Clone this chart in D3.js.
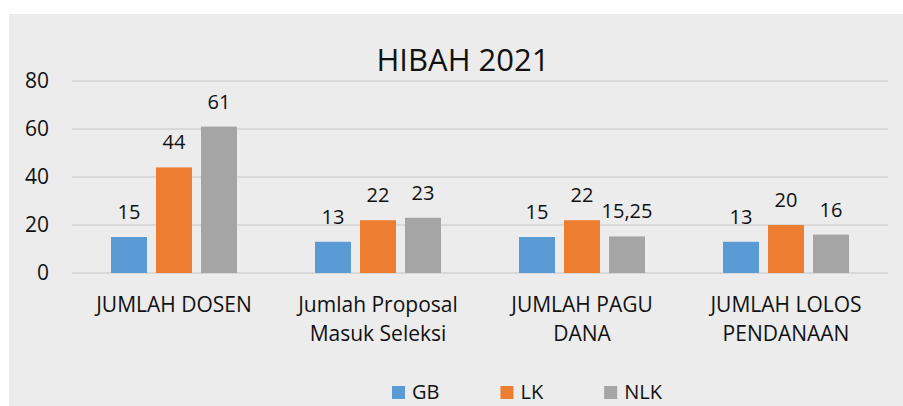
<!DOCTYPE html>
<html>
<head>
<meta charset="utf-8">
<script src="https://cdn.jsdelivr.net/npm/d3@7"></script>
<style>
  html, body { margin: 0; padding: 0; background: #fff; }
  svg { display: block; font-family: "Open Sans", sans-serif; }
</style>
</head>
<body>
<div id="chart"></div>
<script>
const categories = [
  "JUMLAH DOSEN",
  "Jumlah Proposal Masuk Seleksi",
  "JUMLAH PAGU DANA",
  "JUMLAH LOLOS PENDANAAN",
]
const seriesNames = ["GB", "LK", "NLK"]
const gbValues = [15, 13, 15, 13]
const lkValues = [44, 22, 22, 20]
const nlkValues = [61, 23, 15.25, 16]
const yTicks = [0, 20, 40, 60, 80]
const chartTitle = "HIBAH 2021"

const colors = { GB: "#5b9bd5", LK: "#ed7d31", NLK: "#a5a5a5" }

// table for the grouped bars
const table = categories.map((c, i) => ({
  category: c,
  values: [
    { key: "GB", value: gbValues[i] },
    { key: "LK", value: lkValues[i] },
    { key: "NLK", value: nlkValues[i] },
  ],
}))

const W = 903
const H = 406
const margin = { top: 81, right: 15, bottom: 133, left: 72 }
const width = W - margin.left - margin.right
const height = H - margin.top - margin.bottom

const fmt = d3.formatLocale({ decimal: ",", thousands: ".", grouping: [3], currency: ["", ""] }).format("~f")

const svg = d3.select("#chart")
  .append("svg")
  .attr("width", W)
  .attr("height", H)

// panel
svg.append("rect")
  .attr("x", 9)
  .attr("y", 14)
  .attr("width", W - 9)
  .attr("height", H - 14)
  .attr("fill", "#ececec")

svg.append("text")
  .attr("x", 463)
  .attr("y", 71)
  .attr("text-anchor", "middle")
  .attr("font-size", 31)
  .attr("fill", "#111")
  .text(chartTitle)

const g = svg.append("g").attr("transform", `translate(${margin.left},${margin.top})`)

const x0 = d3.scaleBand().domain(categories).range([0, width]).paddingInner(0).paddingOuter(0)
const x1 = d3.scaleBand().domain(seriesNames).range([39, x0.bandwidth() - 39]).paddingInner(0.2).paddingOuter(0)
const y = d3.scaleLinear().domain([0, 80]).range([height, 0])

// gridlines
g.append("g")
  .selectAll("line")
  .data(yTicks)
  .join("line")
  .attr("x1", 0)
  .attr("x2", width)
  .attr("y1", d => y(d))
  .attr("y2", d => y(d))
  .attr("stroke", "#d9d9d9")
  .attr("stroke-width", 2)

// y axis labels
g.append("g")
  .call(d3.axisLeft(y).tickValues(yTicks).tickSize(0).tickPadding(23))
  .call(a => a.select(".domain").remove())
  .call(a => a.selectAll("text")
    .attr("font-family", "Open Sans, sans-serif")
    .attr("font-size", 21)
    .attr("fill", "#111"))

const groups = g.selectAll(".grp")
  .data(table)
  .join("g")
  .attr("class", "grp")
  .attr("transform", d => `translate(${x0(d.category)},0)`)

groups.selectAll("rect")
  .data(d => d.values)
  .join("rect")
  .attr("x", d => x1(d.key))
  .attr("width", x1.bandwidth())
  .attr("y", d => y(d.value))
  .attr("height", d => y(0) - y(d.value))
  .attr("fill", d => colors[d.key])

groups.selectAll(".val")
  .data(d => d.values)
  .join("text")
  .attr("class", "val")
  .attr("x", d => x1(d.key) + x1.bandwidth() / 2)
  .attr("y", d => y(d.value) - 18)
  .attr("text-anchor", "middle")
  .attr("font-size", 20)
  .attr("fill", "#111")
  .text(d => fmt(d.value))

// category labels with wrapping
function wrap(text, maxW) {
  text.each(function () {
    const t = d3.select(this)
    const words = t.text().split(" ")
    t.text(null)
    let lines = [], line = []
    const probe = t.append("tspan")
    words.forEach(w => {
      line.push(w)
      probe.text(line.join(" "))
      if (probe.node().getComputedTextLength() > maxW && line.length > 1) {
        line.pop()
        lines.push(line.join(" "))
        line = [w]
      }
    })
    lines.push(line.join(" "))
    probe.remove()
    lines.forEach((l, i) => {
      t.append("tspan").attr("x", 0).attr("dy", i === 0 ? 0 : 29).text(l)
    })
  })
}

g.append("g")
  .selectAll("text")
  .data(categories)
  .join("text")
  .attr("transform", d => `translate(${x0(d) + x0.bandwidth() / 2},${height + 39})`)
  .attr("text-anchor", "middle")
  .attr("font-size", 21)
  .attr("fill", "#111")
  .text(d => d)
  .call(wrap, 180)

// legend
const legend = svg.append("g").attr("transform", "translate(392,386)")
let lx = 0
seriesNames.forEach(name => {
  const item = legend.append("g").attr("transform", `translate(${lx},0)`)
  item.append("rect").attr("width", 13).attr("height", 13).attr("fill", colors[name])
  const t = item.append("text")
    .attr("x", 20)
    .attr("y", 13)
    .attr("font-size", 20)
    .attr("fill", "#111")
    .text(name)
  lx += 20 + t.node().getComputedTextLength() + 61
})
</script>
</body>
</html>
